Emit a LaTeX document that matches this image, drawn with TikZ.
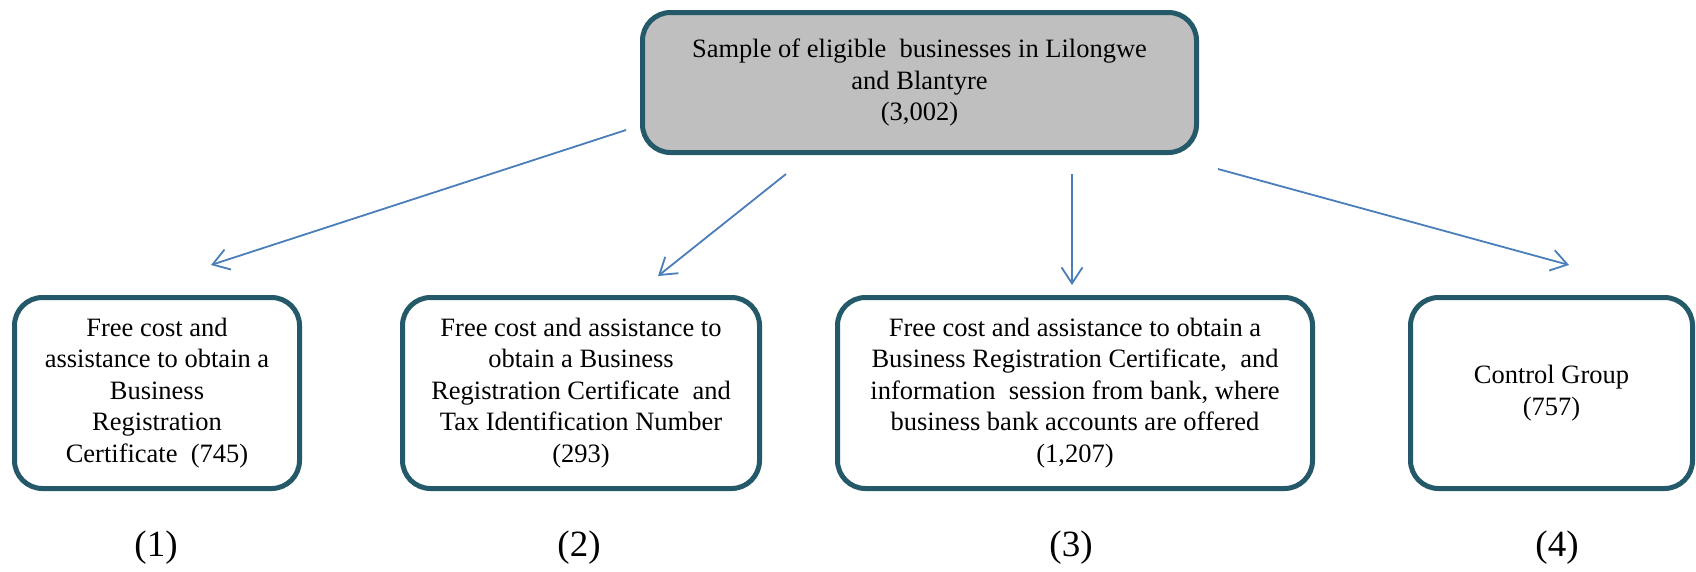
\documentclass[tikz,border=0pt]{standalone}
\usepackage{fontspec}
\setmainfont{Liberation Serif}
\usetikzlibrary{arrows.meta}
\definecolor{boxline}{RGB}{35,89,104}
\definecolor{boxfill}{RGB}{191,191,191}
\definecolor{arrowblue}{RGB}{74,126,187}
\tikzset{
  groupbox/.style={draw=boxline, line width=5pt, rounded corners=28pt, inner sep=0pt,
    align=center, font=\fontsize{26.5pt}{31.5pt}\selectfont, fill=white},
  topbox/.style={groupbox, fill=boxfill},
  flowarrow/.style={draw=arrowblue, line width=1.8pt, -{Straight Barb[length=16pt,width=21pt,line width=1.8pt]}},
  armlabel/.style={font=\fontsize{37pt}{40pt}\selectfont, inner sep=0pt}
}
\begin{document}
\begin{tikzpicture}[x=1pt,y=-1pt]
\useasboundingbox (0,0) rectangle (1696,571);
\node[topbox, minimum width=554pt, minimum height=140pt] (top) at (919.5,82.5)
  {Sample of eligible\ \ businesses in Lilongwe\\and Blantyre\\(3,002)};
\node[groupbox, minimum width=285pt, minimum height=191pt] (g1) at (157,393)
  {Free cost and\\assistance to obtain a\\Business\\Registration\\Certificate\ \ (745)};
\node[groupbox, minimum width=357pt, minimum height=191pt] (g2) at (581,393)
  {Free cost and assistance to\\obtain a Business\\Registration Certificate\ \ and\\Tax Identification Number\\(293)};
\node[groupbox, minimum width=475pt, minimum height=191pt] (g3) at (1075,393)
  {Free cost and assistance to obtain a\\Business Registration Certificate,\ \ and\\information\ \ session from bank, where\\business bank accounts are offered\\(1,207)};
\node[groupbox, minimum width=282pt, minimum height=191pt] (g4) at (1551.5,393)
  {Control Group\\(757)};
\node[armlabel] (l1) at (156,548) {(1)};
\node[armlabel] (l2) at (579,548) {(2)};
\node[armlabel] (l3) at (1071,548) {(3)};
\node[armlabel] (l4) at (1557,548) {(4)};
\coordinate (s1) at (626,130);
\coordinate (e1) at (211,265);
\coordinate (s2) at (786,174);
\coordinate (e2) at (658,276);
\coordinate (s3) at (1072,174);
\coordinate (e3) at (1072,285);
\coordinate (s4) at (1218,169);
\coordinate (e4) at (1569,265);
\draw[flowarrow] (s1) -- (e1);
\draw[flowarrow] (s2) -- (e2);
\draw[flowarrow] (s3) -- (e3);
\draw[flowarrow] (s4) -- (e4);
\end{tikzpicture}
\end{document}
